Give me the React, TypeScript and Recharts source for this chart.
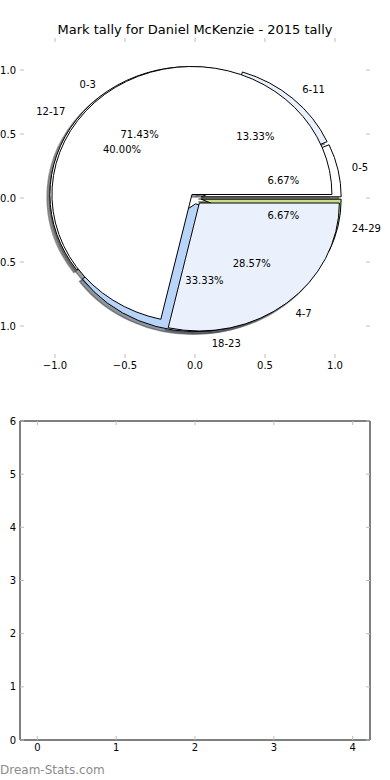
import React from 'react';
import { PieChart, Pie, Cell, ComposedChart, XAxis, YAxis } from 'recharts';

// ---- data ----
const markBands = ['0-3', '4-7'];
const markCounts = [5, 2];
const rangeBands = ['0-5', '6-11', '12-17', '18-23', '24-29'];
const rangeCounts = [1, 2, 6, 5, 1];
const pieAxisTicks = [-1, -0.5, 0, 0.5, 1];
const lowerXTicks = [0, 1, 2, 3, 4];
const lowerYTicks = [0, 1, 2, 3, 4, 5, 6];
const titleText = 'Mark tally for Daniel McKenzie - 2015 tally';
const watermarkText = 'Dream-Stats.com';

// ---- styles ----
const markColors = ['#ffffff', '#ebf1fc'];
const rangeColors = ['#ffffff', '#e9f1fc', '#ffffff', '#b8d4f8', '#c8e08c'];
const markExplode = [0.035, 0.05];
const rangeExplode = [0.045, 0.045, 0.045, 0.045, 0.045];
const FONT = '"DejaVu Sans", Verdana, sans-serif';
const PX_X = 140; // pixels per data unit, horizontal
const PX_Y = 128; // pixels per data unit, vertical
const SHADOW_DX = -0.02 * PX_X;
const SHADOW_DY = 0.02 * PX_Y;
const TICK_GRAY = '#bdbdbd';
const RAD = Math.PI / 180;

const markRows = markBands.map((name, i) => ({ name, value: markCounts[i], explode: markExplode[i] }));
const rangeRows = rangeBands.map((name, i) => ({ name, value: rangeCounts[i], explode: rangeExplode[i] }));
const pieAxisRows = pieAxisTicks.map((x) => ({ x }));
const lowerAxisRows = lowerXTicks.map((x) => ({ x }));

function shade(hex: string): string {
  const n = parseInt(hex.slice(1), 16);
  const r = Math.round(((n >> 16) & 255) * 0.3);
  const g = Math.round(((n >> 8) & 255) * 0.3);
  const b = Math.round((n & 255) * 0.3);
  return `rgb(${r},${g},${b})`;
}

function wedgePath(cx: number, cy: number, outer: number, a1: number, a2: number, explode: number, dx: number, dy: number) {
  const r = outer / PX_X;
  const mid = ((a1 + a2) / 2) * RAD;
  const ox = cx + explode * Math.cos(mid) * PX_X + dx;
  const oy = cy - explode * Math.sin(mid) * PX_Y + dy;
  const rx = r * PX_X;
  const ry = r * PX_Y;
  const x1 = ox + rx * Math.cos(a1 * RAD);
  const y1 = oy - ry * Math.sin(a1 * RAD);
  const x2 = ox + rx * Math.cos(a2 * RAD);
  const y2 = oy - ry * Math.sin(a2 * RAD);
  const large = Math.abs(a2 - a1) > 180 ? 1 : 0;
  const sweep = a2 > a1 ? 0 : 1;
  return `M${ox},${oy} L${x1},${y1} A${rx},${ry} 0 ${large} ${sweep} ${x2},${y2} Z`;
}

function makeShape(shadow: boolean) {
  return (p: any) => {
    const explode = p.payload?.explode ?? p.explode ?? 0;
    const d = wedgePath(
      p.cx, p.cy, p.outerRadius, p.startAngle, p.endAngle, explode,
      shadow ? SHADOW_DX : 0, shadow ? SHADOW_DY : 0
    );
    if (shadow) {
      return <path d={d} fill={p.fill} fillOpacity={0.55} stroke={p.fill} strokeOpacity={0.55} strokeWidth={1.5} />;
    }
    return <path d={d} fill={p.fill} stroke="#000" strokeWidth={1} />;
  };
}

const emptyShape = () => <g />;

function renderWedgeLabel(p: any) {
  const explode = p.payload?.explode ?? p.explode ?? 0;
  const m = p.midAngle * RAD;
  const c = Math.cos(m);
  const s = Math.sin(m);
  const ox = p.cx + explode * c * PX_X;
  const oy = p.cy - explode * s * PX_Y;
  const lx = ox + 1.1 * c * PX_X;
  const ly = oy - 1.1 * s * PX_Y;
  const px = ox + 0.6 * c * PX_X;
  const py = oy - 0.6 * s * PX_Y;
  return (
    <g>
      <text x={lx} y={ly} textAnchor={lx - p.cx > 0 ? 'start' : 'end'} dominantBaseline="central"
        fontFamily={FONT} fontSize={10} fill="#000">{p.name}</text>
      <text x={px} y={py} textAnchor="middle" dominantBaseline="central"
        fontFamily={FONT} fontSize={10} fill="#000">{(p.percent * 100).toFixed(2) + '%'}</text>
    </g>
  );
}

const fmtOne = (v: number) => (v < 0 ? '\u2212' : '') + Math.abs(v).toFixed(1);
const fmtInt = (v: number) => String(v);

type Box = { left: number; right: number; top: number; bottom: number };
const TICK_LEN = 4;
const PAD = 4;

function makeBottomTick(box: Box, fmt: (v: number) => string) {
  return (p: any) => {
    const x = p.x;
    const v = p.payload?.value;
    return (
      <g>
        <line x1={x} x2={x} y1={box.bottom} y2={box.bottom - TICK_LEN} stroke={TICK_GRAY} strokeWidth={1} />
        <line x1={x} x2={x} y1={box.top} y2={box.top + TICK_LEN} stroke={TICK_GRAY} strokeWidth={1} />
        <text x={x} y={box.bottom + PAD + 7.4} textAnchor="middle" fontFamily={FONT} fontSize={10} fill="#000">{fmt(v)}</text>
      </g>
    );
  };
}

function makeLeftTick(box: Box, fmt: (v: number) => string) {
  return (p: any) => {
    const y = p.y;
    const v = p.payload?.value;
    return (
      <g>
        <line x1={box.left} x2={box.left + TICK_LEN} y1={y} y2={y} stroke={TICK_GRAY} strokeWidth={1} />
        <line x1={box.right} x2={box.right - TICK_LEN} y1={y} y2={y} stroke={TICK_GRAY} strokeWidth={1} />
        <text x={box.left - PAD} y={y} textAnchor="end" dominantBaseline="central" fontFamily={FONT} fontSize={10} fill="#000">{fmt(v)}</text>
      </g>
    );
  };
}

const pieBox: Box = { left: 20, right: 370, top: 38, bottom: 358 };
const lowerBox: Box = { left: 20, right: 370, top: 41, bottom: 360 };

function PieAxes() {
  return (
    <ComposedChart width={390} height={380} margin={{ top: pieBox.top, right: 390 - pieBox.right, bottom: 0, left: 0 }} data={pieAxisRows}>
      <XAxis xAxisId="xb" dataKey="x" type="number" orientation="bottom" domain={[-1.25, 1.25]} ticks={pieAxisTicks}
        allowDataOverflow interval={0} height={380 - pieBox.bottom} axisLine={false} tickLine={false}
        tick={makeBottomTick(pieBox, fmtOne)} />
      <YAxis yAxisId="yl" type="number" orientation="left" domain={[-1.25, 1.25]} ticks={pieAxisTicks}
        allowDataOverflow interval={0} width={pieBox.left} axisLine={false} tickLine={false}
        tick={makeLeftTick(pieBox, fmtOne)} />
    </ComposedChart>
  );
}

function TallyPies() {
  const common = {
    dataKey: 'value', nameKey: 'name', cx: 195, cy: 198, outerRadius: 140,
    startAngle: 0, endAngle: 360, isAnimationActive: false, labelLine: false,
  } as any;
  return (
    <PieChart width={390} height={380} margin={{ top: 0, right: 0, bottom: 0, left: 0 }}>
      <Pie {...common} data={rangeRows} shape={makeShape(true)} stroke="none">
        {rangeRows.map((r, i) => <Cell key={r.name} fill={shade(rangeColors[i])} />)}
      </Pie>
      <Pie {...common} data={markRows} shape={makeShape(true)} stroke="none">
        {markRows.map((r, i) => <Cell key={r.name} fill={shade(markColors[i])} />)}
      </Pie>
      <Pie {...common} data={rangeRows} shape={makeShape(false)}>
        {rangeRows.map((r, i) => <Cell key={r.name} fill={rangeColors[i]} />)}
      </Pie>
      <Pie {...common} data={markRows} shape={makeShape(false)}>
        {markRows.map((r, i) => <Cell key={r.name} fill={markColors[i]} />)}
      </Pie>
      <Pie {...common} data={rangeRows} shape={emptyShape} fill="none" stroke="none" label={renderWedgeLabel} />
      <Pie {...common} data={markRows} shape={emptyShape} fill="none" stroke="none" label={renderWedgeLabel} />
    </PieChart>
  );
}

function LowerAxes() {
  const dom: [number, number] = [-0.22, 4.22];
  return (
    <ComposedChart width={390} height={400} margin={{ top: lowerBox.top, right: 390 - lowerBox.right, bottom: 0, left: 0 }} data={lowerAxisRows}>
      <XAxis xAxisId="xb" dataKey="x" type="number" orientation="bottom" domain={dom} ticks={lowerXTicks}
        allowDataOverflow interval={0} height={400 - lowerBox.bottom} axisLine={{ stroke: '#000' }} tickLine={false}
        tick={makeBottomTick(lowerBox, fmtInt)} />
      <XAxis xAxisId="xt" dataKey="x" type="number" orientation="top" mirror domain={dom} ticks={lowerXTicks}
        allowDataOverflow interval={0} axisLine={{ stroke: '#000' }} tick={false} tickLine={false} />
      <YAxis yAxisId="yl" type="number" orientation="left" domain={[0, 6]} ticks={lowerYTicks}
        allowDataOverflow interval={0} width={lowerBox.left} axisLine={{ stroke: '#000' }} tickLine={false}
        tick={makeLeftTick(lowerBox, fmtInt)} />
      <YAxis yAxisId="yr" type="number" orientation="right" mirror domain={[0, 6]} ticks={lowerYTicks}
        allowDataOverflow interval={0} axisLine={{ stroke: '#000' }} tick={false} tickLine={false} />
    </ComposedChart>
  );
}

export default function App() {
  return (
    <div style={{ position: 'absolute', left: 0, top: 0, width: 390, height: 780, background: '#fff', overflow: 'hidden' }}>
      <div style={{ position: 'absolute', left: 0, top: 0 }}>
        <PieAxes />
      </div>
      <div style={{ position: 'absolute', left: 0, top: 0 }}>
        <TallyPies />
      </div>
      <div style={{
        position: 'absolute', left: 0, top: 22, width: 390, textAlign: 'center',
        fontFamily: FONT, fontSize: 13, lineHeight: '16px', color: '#000', whiteSpace: 'nowrap',
      }}>{titleText}</div>
      <div style={{ position: 'absolute', left: 0, top: 380 }}>
        <LowerAxes />
      </div>
      <div style={{
        position: 'absolute', left: 0, top: 763, fontFamily: FONT, fontSize: 12, lineHeight: '14px',
        color: '#8c8c8c', whiteSpace: 'nowrap',
      }}>{watermarkText}</div>
    </div>
  );
}
